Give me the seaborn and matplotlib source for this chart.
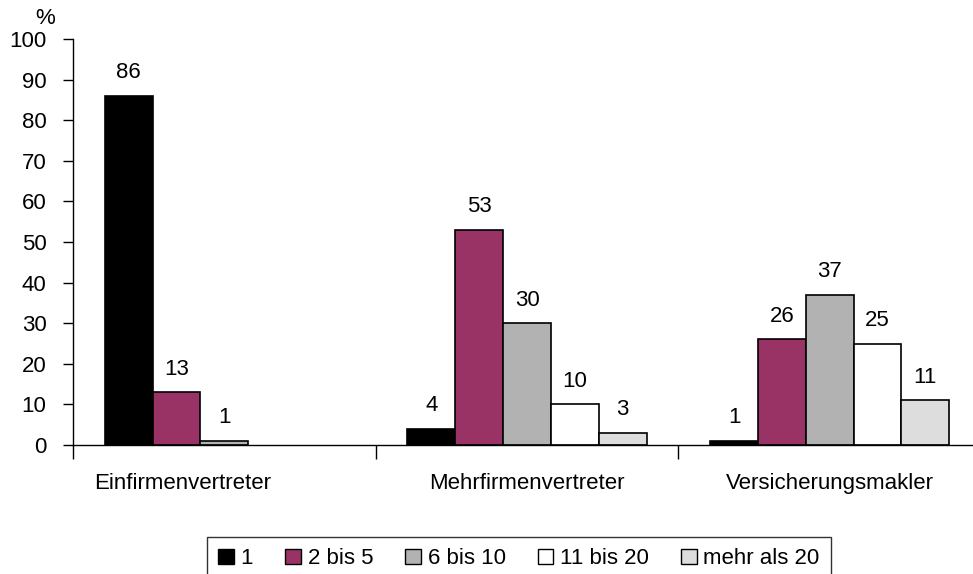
import numpy as np
import pandas as pd
import matplotlib
matplotlib.use("Agg")
import matplotlib.pyplot as plt
import matplotlib.transforms as mtransforms
import seaborn as sns

sns.set_style("white")
plt.rcParams['font.family'] = ['Liberation Sans', 'DejaVu Sans']
plt.rcParams['text.color'] = 'black'
plt.rcParams['xtick.color'] = 'black'
plt.rcParams['ytick.color'] = 'black'

# Data
groups = ["Einfirmenvertreter", "Mehrfirmenvertreter", "Versicherungsmakler"]
series = ["1", "2 bis 5", "6 bis 10", "11 bis 20", "mehr als 20"]
einfirmen = [86, 13, 1, np.nan, np.nan]
mehrfirmen = [4, 53, 30, 10, 3]
makler = [1, 26, 37, 25, 11]
colors = ["#000000", "#993366", "#b2b2b2", "#ffffff", "#dddddd"]

rows = []
for g, vals in zip(groups, [einfirmen, mehrfirmen, makler]):
    for s, v in zip(series, vals):
        rows.append({"group": g, "series": s, "value": v})
df = pd.DataFrame(rows)

fs = 16

fig = plt.figure(figsize=(9.73, 5.74), dpi=100)
ax = fig.add_axes([73 / 973, 129 / 574, (981 - 73) / 973, (445 - 39) / 574])

sns.barplot(data=df, x="group", y="value", hue="series", order=groups,
            hue_order=series, palette=colors, saturation=1, width=0.79,
            edgecolor="black", linewidth=1.2, ax=ax, legend=False)

for cont in ax.containers:
    labels = ["" if np.isnan(b.get_height()) else f"{b.get_height():.0f}" for b in cont]
    ax.bar_label(cont, labels=labels, padding=9, fontsize=fs, color="black")

ax.set_ylim(0, 100)
ax.set_xlim(-0.5, 2.5)
ax.set_yticks(range(0, 101, 10))
ax.tick_params(axis="y", length=7, width=1, labelsize=fs, direction="out", left=True, pad=12)
ax.set_xticks([-0.5, 0.5, 1.5, 2.5], minor=True)
ax.tick_params(axis="x", which="minor", length=10, width=1, direction="out", bottom=True)
ax.tick_params(axis="x", which="major", length=0, labelsize=fs, pad=20)
ax.set_xlabel("")
ax.set_ylabel("")
# first category label sits a bit left of its group in the original
lbls = ax.get_xticklabels()
lbls[0].set_transform(lbls[0].get_transform() + mtransforms.ScaledTranslation(-0.42, 0, fig.dpi_scale_trans))
for side in ["top", "right"]:
    ax.spines[side].set_visible(False)
for side in ["left", "bottom"]:
    ax.spines[side].set_color("black")
    ax.spines[side].set_linewidth(1)
fig.text(45 / 973, 1 - 18 / 574, "%", fontsize=fs, ha="center", va="center")

handles = [plt.Rectangle((0, 0), 1, 1, facecolor=c, edgecolor="black", linewidth=1) for c in colors]
leg = fig.legend(handles, series, loc="upper center", bbox_to_anchor=(519 / 973, 1 - 537 / 574),
                 ncol=5, fontsize=fs, frameon=True, fancybox=False, handlelength=0.7,
                 handleheight=0.7, handletextpad=0.3, columnspacing=1.45, borderpad=0.5,
                 borderaxespad=0)
leg.get_frame().set_edgecolor("black")
leg.get_frame().set_linewidth(1)

plt.savefig("out.png", dpi=100)
plt.close()
